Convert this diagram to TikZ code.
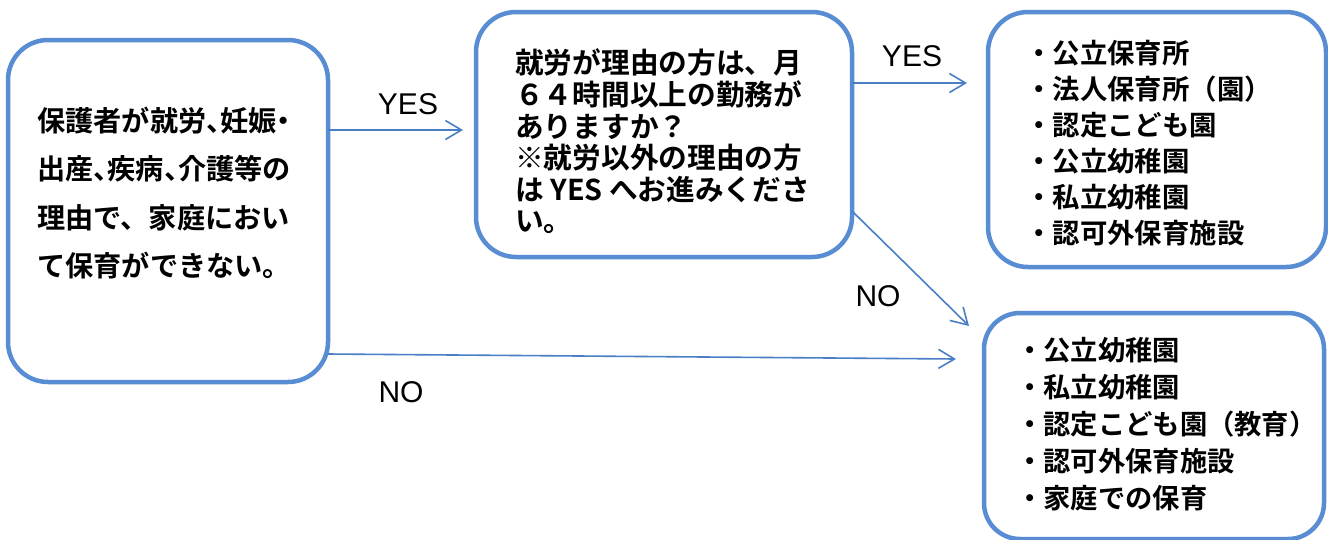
\documentclass[tikz,border=0pt]{standalone}
\usepackage{fontspec}
\usetikzlibrary{arrows.meta}
\setmainfont{Liberation Sans}
\newfontfamily\jpfont{Noto Sans CJK JP Bold}
\definecolor{boxblue}{RGB}{88,141,212}
\definecolor{arrblue}{RGB}{74,127,198}
\newcommand\halfw[2][l]{\makebox[0.5em][#1]{#2}}

\begin{document}
\begin{tikzpicture}[x=1pt,y=-1pt,
	box/.style={draw=boxblue,line width=4.5pt,rounded corners=40pt,fill=white,inner sep=0pt,outer sep=0pt},
	txt/.style={align=left,inner sep=0pt,anchor=west},
	lbl/.style={font=\fontsize{30}{36}\selectfont,inner sep=0pt},
	arr/.style={draw=arrblue,line width=1.6pt,-{Straight Barb[length=16pt,width=19pt]}}]
	\path[use as bounding box,fill=white] (0,0) rectangle (1328,539);
	% boites
	\node[box,minimum width=320pt,minimum height=342pt] (ask) at (168,211) {};
	\node[box,minimum width=376pt,minimum height=245pt] (work) at (664,134.5) {};
	\node[box,minimum width=338pt,minimum height=255pt] (care) at (1157,139.5) {};
	\node[box,minimum width=340pt,minimum height=226pt,rounded corners=36pt] (kinder) at (1154,426) {};
	% textes
	\node[txt,font=\jpfont\fontsize{28.2}{48.5}\selectfont] (asktxt) at (37,193)
		{保護者が就労\halfw{、}妊娠\halfw[c]{・}\\出産\halfw{、}疾病\halfw{、}介護等の\\理由で、家庭におい\\て保育ができない。};
	\node[txt,font=\jpfont\fontsize{28.7}{31.6}\selectfont] (worktxt) at (515,141.5)
		{就労が理由の方は、月\\６４時間以上の勤務が\\ありますか？\\※就労以外の理由の方\\は YES へお進みくださ\\い。};
	\node[txt,font=\jpfont\fontsize{27.4}{36}\selectfont] (caretxt) at (1025,143)
		{・公立保育所\\・法人保育所（園）\\・認定こども園\\・公立幼稚園\\・私立幼稚園\\・認可外保育施設};
	\node[txt,font=\jpfont\fontsize{27.3}{37}\selectfont] (kindertxt) at (1016,424)
		{・公立幼稚園\\・私立幼稚園\\・認定こども園（教育）\\・認可外保育施設\\・家庭での保育};
	% fleches
	\draw[arr] ([yshift=81pt]ask.east) -- ([xshift=-13pt,yshift=4.5pt]work.west);
	\draw[arr] ([yshift=51.5pt]work.east) -- ([xshift=-21pt,yshift=56.5pt]care.west);
	\draw[arr] ([yshift=-76.5pt]work.east) -- ([xshift=-15pt,yshift=-13pt]kinder.north west);
	\draw[arr] ([yshift=-143pt]ask.east) -- ([xshift=-28pt,yshift=67pt]kinder.west);
	% legende
	\node[lbl] (yesa) at (408,104) {YES};
	\node[lbl] (yesb) at (912,56) {YES};
	\node[lbl] (nob) at (878,296) {NO};
	\node[lbl] (noa) at (401,392) {NO};
\end{tikzpicture}
\end{document}
